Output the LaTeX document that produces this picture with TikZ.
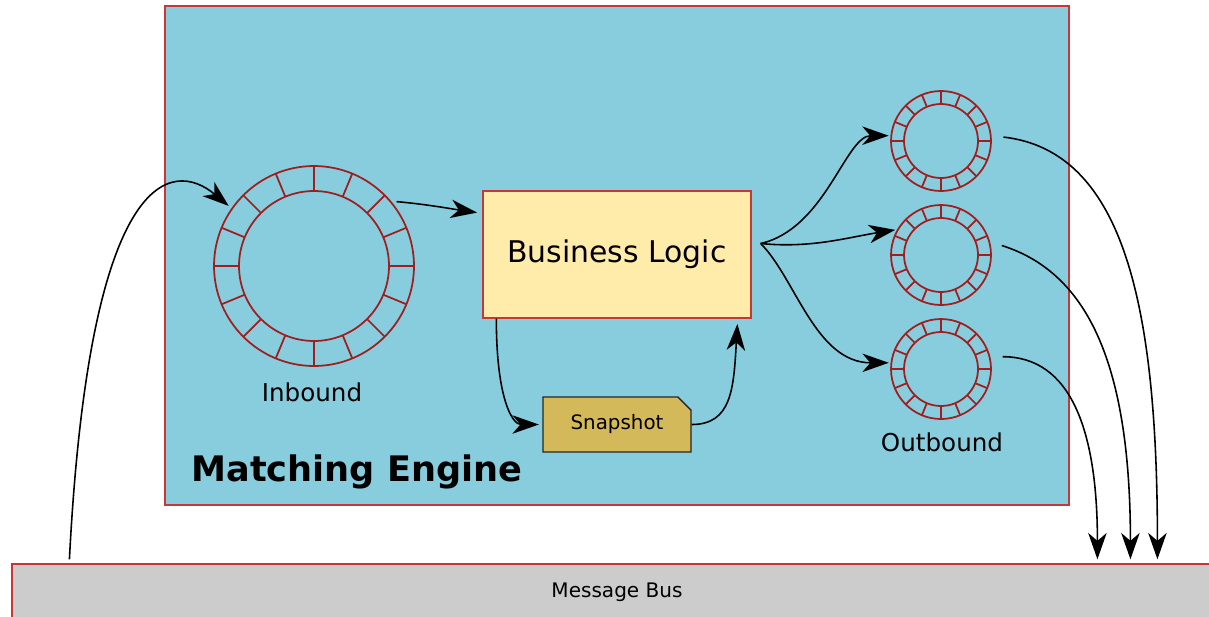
\documentclass[tikz,border=0pt]{standalone}
\usepackage{fontspec}
\setmainfont{DejaVu Sans}
\usetikzlibrary{positioning,shapes.misc,calc,arrows.meta}
\definecolor{enginebg}{RGB}{135,205,222}
\definecolor{boxred}{RGB}{200,55,55}
\definecolor{ringred}{RGB}{160,30,30}
\definecolor{logicbg}{RGB}{255,236,170}
\definecolor{snapbg}{RGB}{212,185,90}
\definecolor{busbg}{RGB}{204,204,204}

\tikzset{
  ring/.style={circle, draw=ringred, line width=1pt, inner sep=0pt},
  ringline/.style={draw=ringred, line width=1pt},
  flow/.style={-{Stealth[length=15pt,width=10.5pt,inset=4.5pt]}, line width=0.9pt},
  lbl/.style={font=\fontsize{14}{16}\selectfont, inner sep=0pt}
}

\begin{document}
\begin{tikzpicture}[x=0.02cm,y=-0.02cm]
  \useasboundingbox (0,0) rectangle (1209,616);
  \fill[white] (0,0) rectangle (1209,616);
  % engine and bus
  \node[rectangle, draw=boxred, fill=enginebg, line width=0.8pt,
        minimum width=18.08cm, minimum height=9.98cm] (engine) at (617,255.5) {};
  \node[rectangle, draw=boxred, fill=busbg, line width=0.8pt,
        minimum width=24.2cm, minimum height=1.12cm,
        font=\fontsize{11.4}{13}\selectfont] (bus) at (617,592) {Message Bus};
  \node[font=\fontsize{20}{24}\selectfont\bfseries, anchor=base west, inner sep=0pt]
        (title) at (191,481) {Matching Engine};
  % ring buffers
  \node[ring, minimum size=4cm] (inb) at (314,266) {};
  \node[ring, minimum size=2cm] (outa) at (941,141) {};
  \node[ring, minimum size=2cm] (outb) at (941,255) {};
  \node[ring, minimum size=2cm] (outc) at (941,369) {};
  \foreach \r/\ri/\ro in {inb/1.5cm/2cm, outa/0.74cm/1cm, outb/0.74cm/1cm, outc/0.74cm/1cm} {
    \draw[ringline] (\r) circle[radius=\ri];
    \foreach \a in {0,22.5,...,337.5}
      \draw[ringline] ($(\r)+(\a:\ri)$) -- ($(\r)+(\a:\ro)$);
  }
  \node[lbl, anchor=base] (inblbl) at (312,401) {Inbound};
  \node[lbl, anchor=base] (outlbl) at (942,451) {Outbound};
  % logic and snapshot
  \node[rectangle, draw=boxred, fill=logicbg, line width=0.8pt,
        minimum width=5.36cm, minimum height=2.54cm,
        font=\fontsize{17}{20}\selectfont] (bl) at (617,254.5) {Business Logic};
  \node[chamfered rectangle, chamfered rectangle corners=north east,
        chamfered rectangle xsep=0.13cm, chamfered rectangle ysep=0.13cm,
        draw=black!85, fill=snapbg, line width=0.8pt,
        minimum width=2.96cm, minimum height=1.1cm,
        font=\fontsize{11.3}{13}\selectfont] (snap) at (617,424.5) {Snapshot};
  % bus ends
  \coordinate (busin) at ($(bus.north west)+(58,-4)$);
  \coordinate (busa) at ($(bus.north west)+(1086,-4)$);
  \coordinate (busb) at ($(bus.north west)+(1119,-4)$);
  \coordinate (busc) at ($(bus.north west)+(1146,-4)$);
  \coordinate (fan) at ($(bl.east)+(9,-11)$);
  % connectors
  \draw[flow, shorten >=2pt] (busin) .. controls +(20,-390) and +(-60,-50) .. (inb.145);
  \draw[flow, shorten <=3pt, shorten >=3pt] (inb.40) .. controls +(35,3) and +(-28,-4) .. (bl.163);
  \draw[flow, shorten >=2pt] ($(bl.south west)+(14,0)$) .. controls +(0,80) and +(-30,0) .. (snap.west);
  \draw[flow, shorten >=3pt] (snap.east) .. controls +(40,0) and +(-4,70) .. ($(bl.south east)+(-14,0)$);
  \draw[flow, shorten >=1pt] (fan) .. controls +(65,-15) and +(-45,0) .. (outa.174);
  \draw[flow, shorten >=1pt] (fan) .. controls +(50,5) and +(-50,8) .. (outb.150);
  \draw[flow, shorten >=1pt] (fan) .. controls +(35,35) and +(-75,0) .. (outc.173);
  \draw[flow, shorten <=6.8pt] (outa.6) .. controls +(130,15) and +(0,-260) .. (busc);
  \draw[flow, shorten <=7pt] (outb.15) .. controls +(95,30) and +(0,-200) .. (busb);
  \draw[flow, shorten <=7pt] (outc.14) .. controls +(80,0) and +(0,-130) .. (busa);
\end{tikzpicture}
\end{document}
